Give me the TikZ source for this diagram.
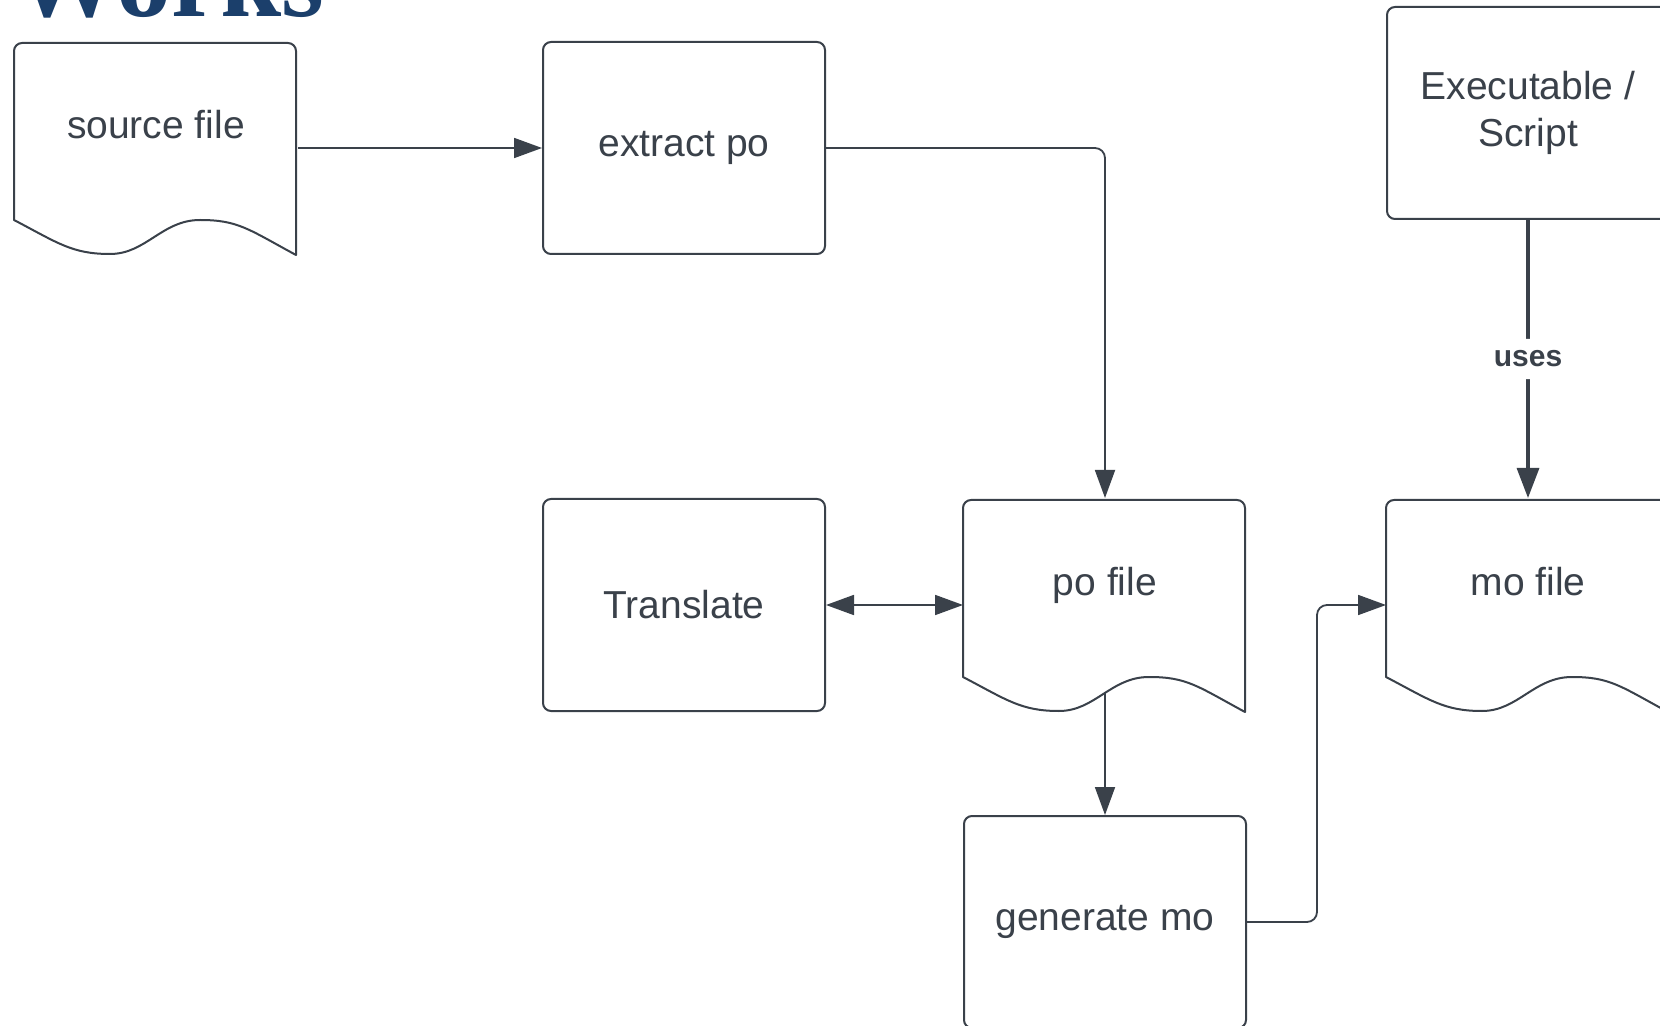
\documentclass[tikz,border=0pt]{standalone}
\usepackage{fontspec}
\setmainfont{Liberation Sans}
\newfontfamily\titlefont{Liberation Serif}
\usepackage{xcolor}
\usepackage{tikz}
\usetikzlibrary{arrows.meta}
\definecolor{inkgray}{HTML}{3A414A}
\definecolor{titleblue}{HTML}{1B3F6B}
\tikzset{
    mybox/.style = {rectangle, rounded corners=4pt, draw=inkgray, line width=1pt, text=inkgray, align=center, font=\fontsize{19.5}{23.4}\selectfont, minimum width=141pt, minimum height=106pt, inner sep=0pt},
    mydoc/.style = {mybox, draw=none, text depth=24pt},
    myline/.style = {draw=inkgray, line width=1pt, line join=round},
    myarrow/.style = {draw=inkgray, line width=0.9pt, rounded corners=5pt, -{Triangle[length=14pt,width=10pt]}},
    myuses/.style = {myarrow, line width=1.6pt, -{Triangle[length=15pt,width=11pt]}},
}
% outline of a document shape, drawn over a named node
\newcommand{\mydocline}[1]{%
  \draw[myline, shift={(#1.south west)}]
    (0pt,17.5pt) [rounded corners=4pt] -- (0pt,106pt) -- (141pt,106pt) -- (141pt,90pt)
    [sharp corners] -- (141pt,0pt)
    .. controls (117pt,13pt) and (112pt,17.5pt) .. (93pt,17.5pt)
    .. controls (74pt,17.5pt) and (66pt,0.5pt) .. (48pt,0.5pt)
    .. controls (29pt,0.5pt) and (22pt,6pt) .. (0pt,17.5pt) -- cycle;}

\begin{document}
\begin{tikzpicture}[x=0.5pt, y=-0.5pt]
  \clip (0,0) rectangle (1660,1026);
  \fill[white] (0,0) rectangle (1660,1026);
  \node[font=\titlefont\bfseries\fontsize{55}{60}\selectfont, text=titleblue, anchor=base west, inner sep=0pt] (title) at (12,17) {Works};

  \node[mydoc] (src) at (156,148) {source file};
  \node[mybox] (extract) at (684,148) {extract po};
  \node[mybox] (exec) at (1528,113) {Executable /\\Script};
  \node[mybox] (translate) at (684,605) {Translate};
  \node[mydoc] (po) at (1105,605) {po file};
  \node[mydoc] (mo) at (1528,605) {mo file};
  \node[mybox] (gen) at (1105,922) {generate mo};
  \mydocline{src}
  \mydocline{po}
  \mydocline{mo}

  \draw[myarrow] (src.east) -- (extract.west);
  \draw[myarrow] (extract.east) -| (po.north);
  \draw[myarrow, {Triangle[length=14pt,width=10pt]}-{Triangle[length=14pt,width=10pt]}] (translate.east) -- (po.west);
  \draw[myarrow] ([yshift=10pt]po.south) -- (gen.north);
  \draw[myarrow] (gen.east) -- ++(35pt,0) |- (mo.west);
  \draw[myuses] (exec.south) -- node[fill=white, inner xsep=2pt, inner ysep=6pt, text=inkgray, font=\bfseries\fontsize{15}{18}\selectfont] (uses) {uses} (mo.north);
\end{tikzpicture}
\end{document}
